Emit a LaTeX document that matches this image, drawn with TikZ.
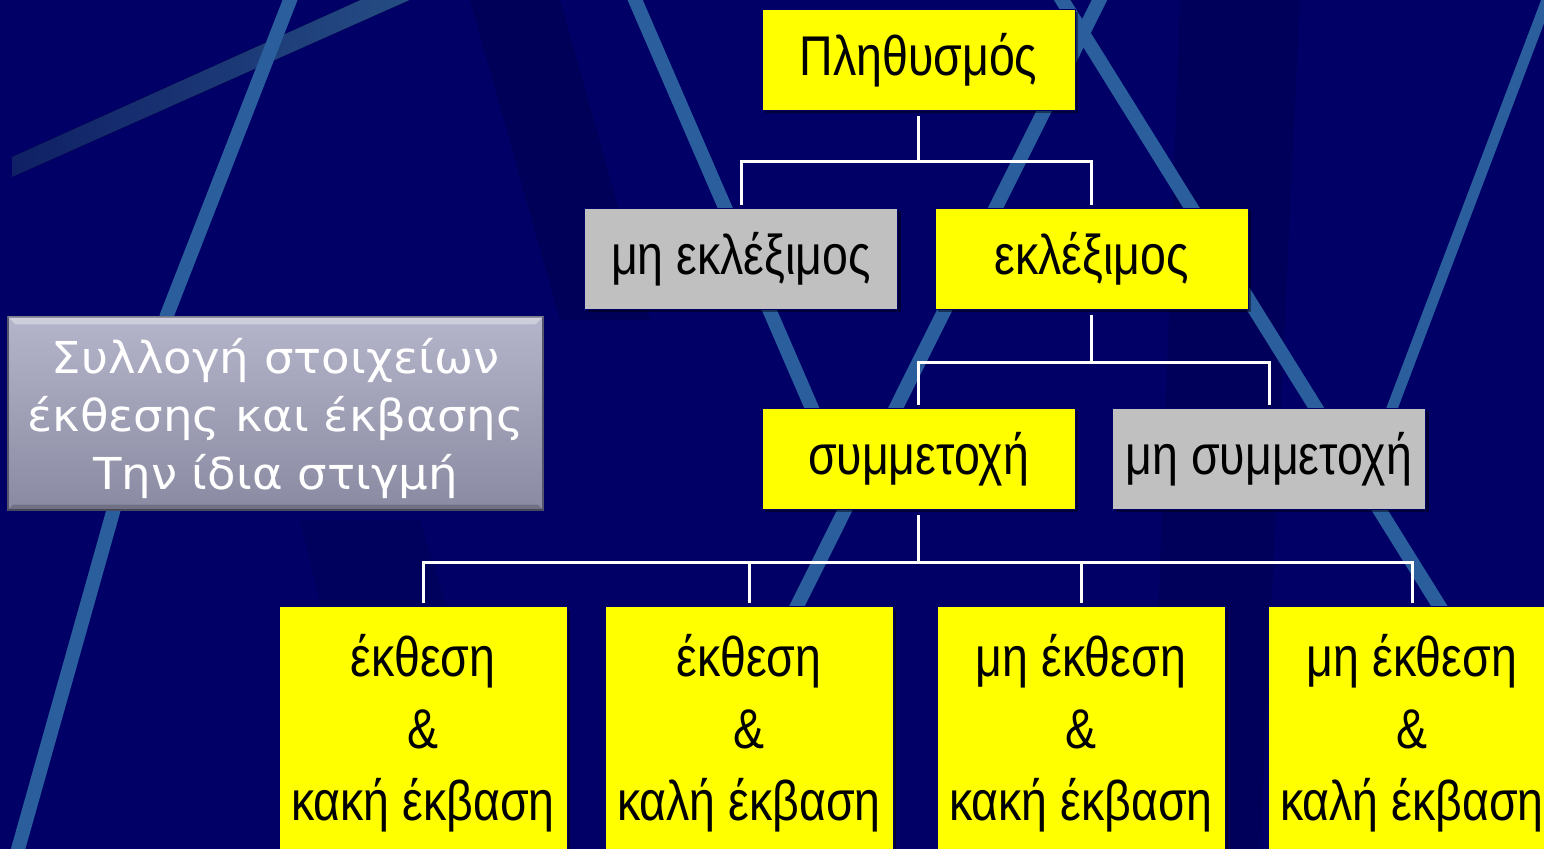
\documentclass[tikz,border=0pt]{standalone}
\usepackage{fontspec}
\setmainfont{Liberation Sans}
\newfontfamily\boxfont[FakeStretch=0.83]{Liberation Sans}
\newfontfamily\notefont[FakeStretch=1.06]{DejaVu Sans}
\usetikzlibrary{shadows}

\definecolor{navy}{HTML}{000066}
\definecolor{navydark}{HTML}{000050}
\definecolor{streak}{HTML}{2B5E9C}
\definecolor{bandlo}{HTML}{122470}
\definecolor{bandhi}{HTML}{2A5692}
\definecolor{boxyellow}{HTML}{FFFF00}
\definecolor{boxgray}{HTML}{C0C0C0}
\definecolor{notetop}{HTML}{B4B4CA}
\definecolor{notebot}{HTML}{8A8AA2}
\definecolor{noteedge}{HTML}{55556E}

\tikzset{
  tree/.style={draw=black!60!blue, line width=0.5pt, inner sep=0pt, align=center,
    font=\boxfont\fontsize{28}{36}\selectfont, text=black,
    drop shadow={shadow xshift=1.5pt, shadow yshift=-1.5pt, fill=black, opacity=0.45}},
  ybox/.style={tree, fill=boxyellow, minimum width=156.5pt, minimum height=50.5pt},
  gbox/.style={tree, fill=boxgray, minimum width=156.5pt, minimum height=50.5pt},
  leaf/.style={tree, fill=boxyellow, minimum width=144pt, minimum height=126.5pt},
  link/.style={draw=white, line width=1.5pt, line join=miter},
  streakline/.style={draw=streak, line width=7pt},
}

\begin{document}
\begin{tikzpicture}[x=0.5pt, y=-0.5pt]
\useasboundingbox (0,0) rectangle (1544,849);
\clip (0,0) rectangle (1544,849);

% backdrop
\fill[navy] (0,0) rectangle (1544,849);
\fill[navydark, opacity=0.6] (470,0) -- (560,0) -- (650,320) -- (560,320) -- cycle;
\fill[navydark, opacity=0.5] (1180,0) -- (1300,0) -- (1260,849) -- (1150,849) -- cycle;
\fill[navydark, opacity=0.4] (300,520) -- (420,520) -- (520,849) -- (380,849) -- cycle;

% light diagonal streaks
\fill[left color=bandlo, right color=bandhi, opacity=0.9]
  (12,157) -- (365,-2) -- (414,-2) -- (12,177) -- cycle;
\draw[streakline, line join=round] (292,-5) -- (167,315) -- (113,512) -- (15,860);
\draw[streakline] (633,-5) -- (830,450);
\draw[streakline] (1102,-5) -- (790,620);
\draw[streakline] (1059,-5) -- (1448,620);
\draw[streakline, line width=5.5pt] (1547,0) -- (1380,440);

% summary note: bevelled panel, then its text
\node[minimum width=267.5pt, minimum height=96.5pt, inner sep=0pt,
      top color=notetop, bottom color=notebot, draw=noteedge, line width=0.6pt]
  (note) at (275.5,413.5) {};
\fill[white, opacity=0.35] (note.north west) -- (note.north east)
  -- ([shift={(-8,8)}]note.north east) -- ([shift={(8,8)}]note.north west) -- cycle;
\fill[black, opacity=0.18] (note.south west) -- (note.south east)
  -- ([shift={(-6,-6)}]note.south east) -- ([shift={(6,-6)}]note.south west) -- cycle;
\node[inner sep=0pt, align=center, text=white,
      font=\notefont\fontsize{22}{29}\selectfont]
  (notetext) at ([yshift=-2.5pt]note.center) {Συλλογή στοιχείων\\έκθεσης και έκβασης\\Την ίδια στιγμή};

% tree
\node[ybox] (pop) at (918.5,60) {Πληθυσμός};
\node[gbox] (nel) at (741,259) {μη εκλέξιμος};
\node[ybox] (el)  at (1091.5,259) {εκλέξιμος};
\node[ybox] (par) at (918.5,459) {συμμετοχή};
\node[gbox] (npar) at (1269,459) {μη συμμετοχή};
\node[leaf] (l1) at (423,733.5) {έκθεση\\\&\\κακή έκβαση};
\node[leaf] (l2) at (749,733.5) {έκθεση\\\&\\καλή έκβαση};
\node[leaf] (l3) at (1081,733.5) {μη έκθεση\\\&\\κακή έκβαση};
\node[leaf] (l4) at (1412,733.5) {μη έκθεση\\\&\\καλή έκβαση};

% connectors
\coordinate (j1) at (918.5,162);
\coordinate (j2) at (1091.5,363);
\coordinate (j3) at (918.5,563);
\draw[link] ([yshift=-2.5pt]pop.south) -- (j1);
\draw[link] ([yshift=1.5pt]nel.north) |- (j1 -| el.north) -- ([yshift=1.5pt]el.north);
\draw[link] ([yshift=-2.5pt]el.south) -- (j2);
\draw[link] ([yshift=1.5pt]par.north) |- (j2 -| npar.north) -- ([yshift=1.5pt]npar.north);
\draw[link] ([yshift=-2.5pt]par.south) -- (j3);
\draw[link] ([yshift=1.5pt]l1.north) |- (j3 -| l4.north) -- ([yshift=1.5pt]l4.north);
\draw[link] ([yshift=1.5pt]l2.north) -- (l2.north |- j3);
\draw[link] ([yshift=1.5pt]l3.north) -- (l3.north |- j3);
\end{tikzpicture}
\end{document}
